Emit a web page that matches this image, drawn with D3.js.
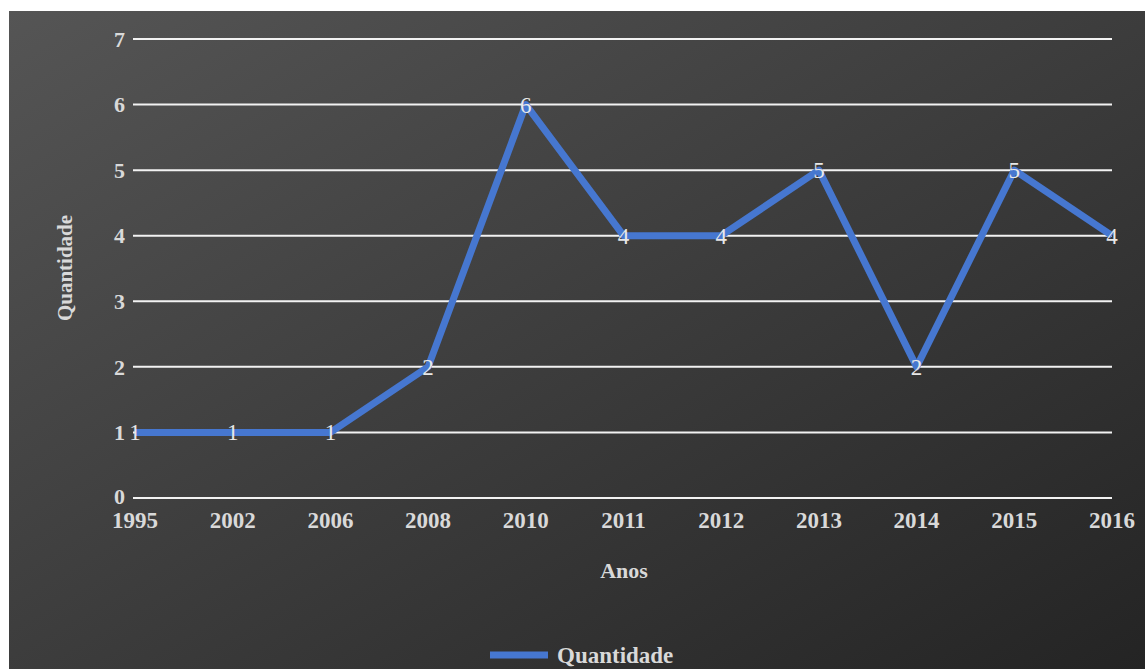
<!DOCTYPE html>
<html lang="pt">
  <head>
    <meta charset="utf-8">
    <title>Quantidade por ano</title>
    <style type="text/css">
      html, body { margin: 0; padding: 0; background: #fff; }
      svg { display: block; }
      svg text { font-family: "Liberation Serif", "DejaVu Serif", "Times New Roman", serif; }
    </style>
  </head>
  <body>
    <script src="https://d3js.org/d3.v7.min.js"></script>
    <script type="text/javascript">
    // ===================================
    // DATA
    // ===================================
      var years = ["1995", "2002", "2006", "2008", "2010", "2011", "2012", "2013", "2014", "2015", "2016"];
      var quantidade = [1, 1, 1, 2, 6, 4, 4, 5, 2, 5, 4];
      var yTicks = [0, 1, 2, 3, 4, 5, 6, 7];

      var W = 1145, H = 669;
      var blue = "#4677d0";

      var svg = d3.select("body").append("svg")
        .attr("width", W)
        .attr("height", H);

      // background gradient
      var defs = svg.append("defs");
      var grad = defs.append("linearGradient")
        .attr("id", "bg")
        .attr("x1", "0%").attr("y1", "0%")
        .attr("x2", "100%").attr("y2", "100%");
      grad.append("stop").attr("offset", "0%").attr("stop-color", "#555555");
      grad.append("stop").attr("offset", "100%").attr("stop-color", "#242424");

      svg.append("rect")
        .attr("x", 9).attr("y", 11)
        .attr("width", W - 9).attr("height", H - 11)
        .attr("fill", "url(#bg)");

    // ===================================
    // SCALES
    // ===================================
      var x = d3.scalePoint()
        .domain(years)
        .range([135, 1112])
        .padding(0);

      var y = d3.scaleLinear()
        .domain([0, 7])
        .range([498, 39]);

      // grid lines
      svg.append("g")
        .selectAll("line")
        .data(yTicks)
        .enter()
        .append("line")
        .attr("x1", 133)
        .attr("x2", 1112)
        .attr("y1", function(d) { return y(d); })
        .attr("y2", function(d) { return y(d); })
        .attr("stroke", "#f2f2f2")
        .attr("stroke-width", 2);

      // y tick labels
      svg.append("g")
        .selectAll("text")
        .data(yTicks)
        .enter()
        .append("text")
        .attr("x", 125)
        .attr("y", function(d) { return y(d) - (d === 0 ? 2 : 0); })
        .attr("dy", "0.35em")
        .attr("text-anchor", "end")
        .attr("font-weight", "bold")
        .attr("font-size", 22)
        .attr("fill", "#d9d9d9")
        .text(function(d) { return d; });

      // x tick labels
      svg.append("g")
        .selectAll("text")
        .data(years)
        .enter()
        .append("text")
        .attr("x", function(d) { return x(d); })
        .attr("y", 528)
        .attr("text-anchor", "middle")
        .attr("font-weight", "bold")
        .attr("font-size", 23)
        .attr("fill", "#d9d9d9")
        .text(function(d) { return d; });

      // axis titles
      svg.append("text")
        .attr("transform", "translate(72,268) rotate(-90)")
        .attr("text-anchor", "middle")
        .attr("font-weight", "bold")
        .attr("font-size", 21)
        .attr("fill", "#d9d9d9")
        .text("Quantidade");

      svg.append("text")
        .attr("x", 624)
        .attr("y", 578)
        .attr("text-anchor", "middle")
        .attr("font-weight", "bold")
        .attr("font-size", 22)
        .attr("fill", "#d9d9d9")
        .text("Anos");

    // ===================================
    // LINE
    // ===================================
      var line = d3.line()
        .x(function(d, i) { return x(years[i]); })
        .y(function(d) { return y(d); });

      svg.append("path")
        .datum(quantidade)
        .attr("d", line)
        .attr("fill", "none")
        .attr("stroke", blue)
        .attr("stroke-width", 7)
        .attr("stroke-linejoin", "round");

      // data labels
      svg.append("g")
        .selectAll("text")
        .data(quantidade)
        .enter()
        .append("text")
        .attr("x", function(d, i) { return x(years[i]); })
        .attr("y", function(d) { return y(d); })
        .attr("dy", "0.35em")
        .attr("text-anchor", "middle")
        .attr("font-size", 23)
        .attr("fill", "#e8e8e8")
        .text(function(d) { return d; });

    // ===================================
    // LEGEND
    // ===================================
      svg.append("line")
        .attr("x1", 490).attr("x2", 548)
        .attr("y1", 655).attr("y2", 655)
        .attr("stroke", blue)
        .attr("stroke-width", 7);

      svg.append("text")
        .attr("x", 557)
        .attr("y", 663)
        .attr("font-weight", "bold")
        .attr("font-size", 23)
        .attr("fill", "#d9d9d9")
        .text("Quantidade");
    </script>
  </body>
</html>
